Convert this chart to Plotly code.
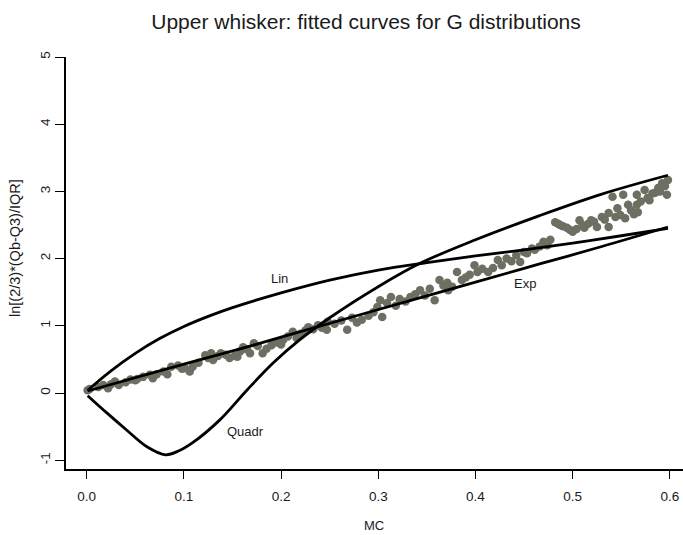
import plotly.graph_objects as go

# ---- data ----
mc = [0.001, 0.003, 0.012, 0.017, 0.022, 0.025, 0.029, 0.033, 0.040, 0.045,
      0.050, 0.052, 0.058, 0.065, 0.068, 0.072, 0.079, 0.083, 0.087, 0.094,
      0.098, 0.101, 0.106, 0.109, 0.115, 0.122, 0.125, 0.128, 0.130, 0.135,
      0.138, 0.143, 0.147, 0.152, 0.155, 0.158, 0.161, 0.165, 0.168, 0.172,
      0.176, 0.181, 0.185, 0.190, 0.195, 0.200, 0.202, 0.207, 0.212, 0.216,
      0.220, 0.225, 0.228, 0.233, 0.238, 0.242, 0.247, 0.248, 0.255, 0.262,
      0.268, 0.273, 0.278, 0.283, 0.290, 0.295, 0.299, 0.302, 0.304, 0.309,
      0.313, 0.318, 0.322, 0.328, 0.333, 0.338, 0.343, 0.348, 0.353, 0.358,
      0.363, 0.367, 0.371, 0.372, 0.376, 0.381, 0.386, 0.390, 0.394, 0.399,
      0.402, 0.407, 0.413, 0.418, 0.423, 0.427, 0.432, 0.437, 0.442, 0.446,
      0.450, 0.453, 0.458, 0.461, 0.466, 0.470, 0.474, 0.477, 0.482, 0.485,
      0.487, 0.490, 0.494, 0.497, 0.500, 0.504, 0.507, 0.510, 0.512, 0.516,
      0.519, 0.522, 0.525, 0.530, 0.533, 0.537, 0.537, 0.541, 0.544, 0.546,
      0.549, 0.552, 0.554, 0.557, 0.560, 0.563, 0.566, 0.566, 0.567, 0.570,
      0.574, 0.577, 0.579, 0.582, 0.585, 0.588, 0.590, 0.592, 0.595, 0.597,
      0.598]
lnw = [0.04, 0.06, 0.09, 0.12, 0.07, 0.13, 0.17, 0.12, 0.16, 0.20,
       0.19, 0.21, 0.24, 0.27, 0.22, 0.28, 0.32, 0.28, 0.39, 0.41,
       0.36, 0.37, 0.32, 0.39, 0.45, 0.56, 0.52, 0.59, 0.49, 0.55,
       0.59, 0.57, 0.52, 0.55, 0.54, 0.62, 0.68, 0.65, 0.59, 0.74,
       0.70, 0.59, 0.66, 0.71, 0.75, 0.72, 0.79, 0.84, 0.91, 0.82,
       0.88, 0.93, 0.98, 0.95, 1.01, 0.97, 0.94, 1.06, 1.03, 1.08,
       0.94, 1.12, 1.05, 1.09, 1.15, 1.20, 1.28, 1.38, 1.13, 1.34,
       1.43, 1.30, 1.40, 1.36, 1.43, 1.47, 1.53, 1.45, 1.55, 1.38,
       1.68, 1.60, 1.64, 1.53, 1.58, 1.80, 1.68, 1.72, 1.76, 1.90,
       1.80, 1.85, 1.80, 1.86, 1.98, 1.90, 2.00, 1.96, 2.05, 1.95,
       2.10, 2.08, 2.15, 2.13, 2.18, 2.25, 2.20, 2.28, 2.54, 2.52,
       2.50, 2.48, 2.46, 2.43, 2.40, 2.44, 2.57, 2.50, 2.46, 2.52,
       2.57, 2.55, 2.47, 2.62, 2.58, 2.68, 2.47, 2.92, 2.62, 2.75,
       2.65, 2.95, 2.60, 2.80, 2.72, 2.66, 2.95, 2.80, 2.69, 2.85,
       3.02, 2.90, 2.87, 2.97, 2.98, 3.05, 3.00, 3.12, 3.08, 2.95,
       3.17]

lin_x = [0.001, 0.025, 0.050, 0.075, 0.100, 0.125, 0.150, 0.200, 0.250,
         0.300, 0.350, 0.400, 0.450, 0.500, 0.550, 0.598]
lin_y = [0.04, 0.33, 0.59, 0.81, 0.99, 1.14, 1.27, 1.49, 1.68,
         1.83, 1.94, 2.04, 2.13, 2.23, 2.34, 2.45]

exp_x = [0.001, 0.100, 0.156, 0.200, 0.302, 0.400, 0.466, 0.530, 0.598]
exp_y = [0.03, 0.43, 0.65, 0.83, 1.25, 1.65, 1.92, 2.18, 2.47]

quad_x = [0.001, 0.021, 0.041, 0.062, 0.081, 0.095, 0.109, 0.137, 0.165,
          0.192, 0.219, 0.250, 0.302, 0.343, 0.400, 0.466, 0.530, 0.598]
quad_y = [-0.04, -0.30, -0.55, -0.80, -0.92, -0.86, -0.74, -0.40, 0.045,
          0.45, 0.79, 1.12, 1.60, 1.93, 2.28, 2.64, 2.96, 3.24]

x_ticks = [0.0, 0.1, 0.2, 0.3, 0.4, 0.5, 0.6]
x_tick_labels = ["0.0", "0.1", "0.2", "0.3", "0.4", "0.5", "0.6"]
y_ticks = [-1, 0, 1, 2, 3, 4, 5]
y_tick_labels = ["-1", "0", "1", "2", "3", "4", "5"]

curve_labels = ["Lin", "Exp", "Quadr"]
label_x = [0.198, 0.451, 0.163]
label_y = [1.71, 1.63, -0.58]

FONT = "Liberation Sans, Arial, sans-serif"
TXT = "#1a1a1a"

fig = go.Figure()
fig.add_trace(go.Scatter(x=mc, y=lnw, mode="markers",
                         marker=dict(color="#6e6e62", size=8.5, line=dict(width=0)),
                         showlegend=False))
for cx, cy in [(lin_x, lin_y), (exp_x, exp_y), (quad_x, quad_y)]:
    fig.add_trace(go.Scatter(x=cx, y=cy, mode="lines",
                             line=dict(color="black", width=2.8, shape="spline", smoothing=1.0),
                             showlegend=False))

for t, lx, ly in zip(curve_labels, label_x, label_y):
    fig.add_annotation(x=lx, y=ly, text=t, showarrow=False,
                       font=dict(family=FONT, size=13, color=TXT))

# axis titles
fig.add_annotation(text="MC", xref="paper", yref="paper",
                   x=(374 - 66) / 617, y=-(525 - 469) / 412,
                   xanchor="center", yanchor="middle", showarrow=False,
                   font=dict(family=FONT, size=13, color=TXT))
fig.add_annotation(text="ln[(2/3)*(Qb-Q3)/IQR]", xref="paper", yref="paper",
                   x=-(66 - 15) / 617, y=(469 - 248) / 412, textangle=-90,
                   xanchor="center", yanchor="middle", showarrow=False,
                   font=dict(family=FONT, size=14.5, color=TXT))

fig.update_layout(
    width=683, height=535,
    margin=dict(l=66, r=0, t=57, b=66),
    paper_bgcolor="white", plot_bgcolor="white",
    font=dict(family=FONT, color=TXT),
    title=dict(text="Upper whisker: fitted curves for G distributions",
               x=366 / 683, xanchor="center", xref="container",
               y=1 - 22 / 535, yanchor="middle",
               font=dict(family=FONT, size=21, color=TXT)),
    xaxis=dict(range=[-0.0213, 0.6135], tickvals=x_ticks, ticktext=x_tick_labels,
               showgrid=False, zeroline=False, showline=True, linecolor="black",
               linewidth=1.5, ticks="outside", ticklen=8, tickwidth=1.3,
               tickcolor="black", ticklabelstandoff=6,
               tickfont=dict(family=FONT, size=13.5, color=TXT)),
    yaxis=dict(range=[-1.131, 5.0], tickvals=y_ticks, ticktext=y_tick_labels,
               showgrid=False, zeroline=False, showline=True, linecolor="black",
               linewidth=1.5, ticks="outside", ticklen=9, tickwidth=1.3,
               tickcolor="black", tickangle=-90,
               tickfont=dict(family=FONT, size=13.5, color=TXT)),
)

fig.write_html("out.html")
